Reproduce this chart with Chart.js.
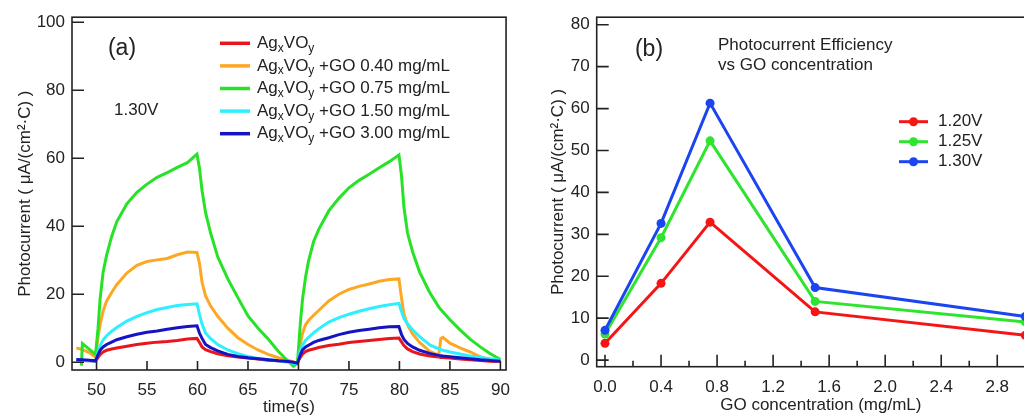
<!DOCTYPE html>
<html>
<head>
<meta charset="utf-8">
<script src="https://cdn.jsdelivr.net/npm/chart.js@4.4.1/dist/chart.umd.min.js"></script>
<style>
  html, body { margin: 0; background: #fff; overflow: hidden; width: 1024px; height: 416px; }
  #a { position: absolute; left: 0; top: 0; }
  #b { position: absolute; left: 530px; top: 0; }
</style>
</head>
<body>
<canvas id="a" width="520" height="416"></canvas>
<canvas id="b" width="530" height="416"></canvas>
<script>
// (a) transient photocurrent at 1.30 V, two light on/off cycles
const time = [48, 48.5, 48.6, 49.3, 49.9, 50.15, 50.35, 50.65, 51, 51.5, 52, 53, 54, 55, 56, 57, 58, 59, 59.95,
  60.2, 60.45, 60.8, 61.3, 62, 63, 64, 65, 66, 67, 68, 69, 69.5, 69.9, 70.2, 70.4, 70.7, 71, 71.5, 72,
  73, 74, 75, 76, 77, 78, 79, 79.95, 80.2, 80.45, 80.8, 81.3, 82, 83, 83.9, 84.1, 84.3, 85, 86, 87, 88, 89, 90];
const iBare = [0.6, 0.6, 0.5, 0.4, 0.3, 1.4, 2.2, 3, 3.5, 3.9, 4.2, 4.7, 5.2, 5.6, 5.9, 6.1, 6.4, 6.8, 7,
  5.8, 4.5, 3.7, 3.1, 2.5, 1.9, 1.5, 1.2, 0.9, 0.6, 0.4, 0.2, 0, -0.1, 1.5, 2.4, 3.1, 3.5, 3.9, 4.3,
  4.9, 5.3, 5.8, 6.1, 6.4, 6.7, 7, 7.1, 6, 4.9, 3.9, 3.1, 2.4, 1.8, 1.5, 1.4, 1.4, 1.2, 0.9, 0.7, 0.5, 0.3, 0.2];
const iGO040 = [4.2, 3.8, 3.7, 2.8, 1.5, 7.5, 11, 15, 18, 20.5, 22.8, 26.2, 28.5, 29.6, 30.1, 30.5, 31.6, 32.4, 32.3,
  29, 23.5, 19.5, 16.5, 13.5, 10, 7.2, 5.2, 3.6, 2.3, 1.3, 0.5, 0.1, -0.3, 5.5, 8.5, 11, 12.3, 13.8, 15.2,
  18, 20, 21.4, 22.3, 23, 23.8, 24.3, 24.5, 19, 14, 11, 8.3, 5.8, 3.2, 2, 7, 7.3, 5.6, 4.2, 3, 1.6, 0.6, 0.3];
const iGO075 = [null, -1, 5.5, 3.8, 2.2, 10, 18.5, 26.5, 31.5, 37, 41.3, 46.6, 50, 52.4, 54.4, 55.8, 57.3, 58.7, 61.2,
  57, 50.5, 44, 38, 31, 24.5, 19, 13.6, 10, 6.8, 3.2, 0.2, -1.2, -0.3, 12, 18.5, 25, 29.8, 35.5, 39,
  44.5, 48.2, 51.3, 53.5, 55.3, 57.2, 59, 61, 55, 45.5, 38, 32.5, 26.5, 20.5, 16.2, 15.5, 14.8, 12.5, 9.5, 6.8, 4.5, 2.5, 0.8];
const iGO150 = [0.6, 0.5, 0.5, 0.4, 0.3, 3, 4.9, 6.5, 7.8, 9.1, 10.2, 12.1, 13.5, 14.6, 15.5, 16.1, 16.7, 17, 17.2,
  14, 11.2, 8.6, 6.9, 5.2, 3.6, 2.5, 1.7, 1.1, 0.8, 0.4, 0, -0.3, -0.5, 3.7, 5, 6.4, 7.3, 8.6, 9.8,
  11.8, 13.1, 14.1, 15, 15.7, 16.4, 16.9, 17.3, 15, 12.8, 11.3, 9.5, 7.5, 5.1, 3.9, 3.7, 3.5, 3, 2.4, 1.8, 1.4, 1, 0.6];
const iGO300 = [0.8, 0.7, 0.7, 0.6, 0.4, 2.2, 3.5, 4.5, 5.2, 5.9, 6.6, 7.5, 8.2, 8.8, 9.2, 9.7, 10.1, 10.5, 10.7,
  8.5, 7, 5.2, 4.3, 3.3, 2.3, 1.7, 1.3, 1, 0.7, 0.4, 0.2, 0, -0.3, 2.3, 3.6, 4.5, 5, 5.8, 6.4,
  7.2, 8.1, 8.8, 9.3, 9.7, 10.1, 10.4, 10.5, 8.2, 6.7, 5.5, 4.5, 3.5, 2.6, 2, 1.9, 1.8, 1.6, 1.3, 1, 0.7, 0.5, 0.3];
const timeTicks = [50, 55, 60, 65, 70, 75, 80, 85, 90];
const currTicks = [0, 20, 40, 60, 80, 100];

// (b) peak photocurrent vs GO loading at three bias potentials
const goConc = [0, 0.4, 0.75, 1.5, 3.0];
const eff120 = [4, 18.3, 32.9, 11.5, 5.9];
const eff125 = [6.2, 29.2, 52.3, 14, 9.1];
const eff130 = [7.1, 32.6, 61.3, 17.3, 10.4];
const concTicks = [0, 0.4, 0.8, 1.2, 1.6, 2.0, 2.4, 2.8];
const concMinor = [0.2, 0.6, 1.0, 1.4, 1.8, 2.2, 2.6, 3.0];
const effTicks = [0, 10, 20, 30, 40, 50, 60, 70, 80];

const FONT = '"Liberation Sans", Arial, Helvetica, sans-serif';
const INK = '#222';
Chart.defaults.font.family = FONT;
Chart.defaults.font.size = 17;
Chart.defaults.color = INK;

// "_x" in a label means a one-letter subscript
function richText(ctx, str, x, y, size) {
  let cx = x;
  str.split(/(_\w)/).filter(Boolean).forEach((p) => {
    const sub = p[0] === '_';
    const s = sub ? p.slice(1) : p;
    ctx.font = `${sub ? Math.round(size * 0.7) : size}px ${FONT}`;
    ctx.fillText(s, cx, sub ? y + size * 0.3 : y);
    cx += ctx.measureText(s).width;
  });
}

// boxed plot with ticks pointing inward
const frame = {
  id: 'frame',
  afterDraw(chart, args, o) {
    const { ctx, chartArea: a, scales: { x, y } } = chart;
    ctx.save();
    ctx.strokeStyle = INK;
    ctx.lineWidth = 1.6;
    ctx.strokeRect(a.left, a.top, a.right - a.left, a.bottom - a.top);
    ctx.beginPath();
    x.ticks.forEach((t) => { const p = x.getPixelForValue(t.value); ctx.moveTo(p, a.bottom); ctx.lineTo(p, a.bottom - o.xLen); });
    (o.xMinor || []).forEach((v) => { const p = x.getPixelForValue(v); ctx.moveTo(p, a.bottom); ctx.lineTo(p, a.bottom - o.xLen / 2); });
    y.ticks.forEach((t) => { const p = y.getPixelForValue(t.value); ctx.moveTo(a.left, p); ctx.lineTo(a.left + o.yLen, p); });
    ctx.stroke();
    ctx.restore();
  }
};

// panel labels, free text and the hand-placed legend
const notes = {
  id: 'notes',
  afterDraw(chart, args, o) {
    const ctx = chart.ctx;
    ctx.save();
    ctx.fillStyle = INK;
    ctx.textBaseline = 'middle';
    o.items.forEach((it) => {
      ctx.textAlign = it.align || 'left';
      ctx.font = `${it.size}px ${FONT}`;
      ctx.fillText(it.text, it.x, it.y);
    });
    ctx.textAlign = 'left';
    const L = o.legend;
    chart.data.datasets.forEach((ds, i) => {
      const y = L.y + i * L.dy;
      ctx.strokeStyle = ds.borderColor;
      ctx.lineWidth = L.width;
      ctx.beginPath();
      ctx.moveTo(L.x, y);
      ctx.lineTo(L.x + L.len, y);
      ctx.stroke();
      if (L.marker) {
        ctx.fillStyle = ds.borderColor;
        ctx.beginPath();
        ctx.arc(L.x + L.len / 2, y, L.marker, 0, Math.PI * 2);
        ctx.fill();
      }
      ctx.fillStyle = INK;
      richText(ctx, ds.label, L.x + L.len + L.gap, y, 17);
    });
    ctx.restore();
  }
};

// no outside tick marks: the frame plugin draws them inward
const noGrid = { display: false, drawTicks: false, tickLength: 0 };

const seriesA = [
  { label: 'Ag_xVO_y', data: iBare, color: '#e8161c', order: 5 },
  { label: 'Ag_xVO_y +GO 0.40 mg/mL', data: iGO040, color: '#fca823', order: 4 },
  { label: 'Ag_xVO_y +GO 0.75 mg/mL', data: iGO075, color: '#27e227', order: 3 },
  { label: 'Ag_xVO_y +GO 1.50 mg/mL', data: iGO150, color: '#2cefff', order: 2 },
  { label: 'Ag_xVO_y +GO 3.00 mg/mL', data: iGO300, color: '#1414c4', order: 1 }
];

new Chart(document.getElementById('a'), {
  type: 'line',
  data: {
    datasets: seriesA.map((s) => ({
      label: s.label,
      data: time.map((t, i) => ({ x: t, y: s.data[i] })),
      borderColor: s.color, borderWidth: 3, pointRadius: 0, order: s.order
    }))
  },
  options: {
    responsive: false, animation: false,
    layout: { padding: { top: 15, right: 11, left: 0, bottom: 0 } },
    plugins: {
      legend: { display: false }, tooltip: { enabled: false },
      frame: { xLen: 9, yLen: 12 },
      notes: {
        items: [
          { text: '(a)', x: 122, y: 49, size: 23, align: 'center' },
          { text: '1.30V', x: 114, y: 110, size: 17 }
        ],
        legend: { x: 220, y: 43.3, dy: 22.6, len: 30, gap: 7, width: 3.5 }
      }
    },
    scales: {
      x: {
        type: 'linear', min: 47.57, max: 90.56,
        grid: noGrid, border: { display: false },
        afterBuildTicks: (s) => { s.ticks = timeTicks.map((v) => ({ value: v })); },
        afterFit: (s) => { s.height = 46; },
        ticks: { padding: 10 },
        title: { display: true, text: 'time(s)', font: { size: 17, lineHeight: 1 }, padding: 0 }
      },
      y: {
        type: 'linear', min: -2.3, max: 101.5,
        grid: noGrid, border: { display: false },
        afterBuildTicks: (s) => { s.ticks = currTicks.map((v) => ({ value: v })); },
        afterFit: (s) => { s.width = 72; },
        ticks: { padding: 7 },
        title: { display: true, text: 'Photocurrent ( μA/(cm²·C) )', font: { size: 17, lineHeight: 1 }, padding: { top: 16.5, bottom: 0 } }
      }
    }
  },
  plugins: [frame, notes]
});

const seriesB = [
  { label: '1.20V', data: eff120, color: '#f41616', order: 3 },
  { label: '1.25V', data: eff125, color: '#2ee42e', order: 2 },
  { label: '1.30V', data: eff130, color: '#1a45f0', order: 1 }
];

new Chart(document.getElementById('b'), {
  type: 'line',
  data: {
    datasets: seriesB.map((s) => ({
      label: s.label,
      data: goConc.map((c, i) => ({ x: c, y: s.data[i] })),
      borderColor: s.color, backgroundColor: s.color, borderWidth: 3,
      pointRadius: 4.5, pointBackgroundColor: s.color, pointBorderWidth: 0, order: s.order
    }))
  },
  options: {
    responsive: false, animation: false,
    layout: { padding: { top: 14, right: 15, left: 0, bottom: 0 } },
    plugins: {
      legend: { display: false }, tooltip: { enabled: false },
      frame: { xLen: 12, yLen: 12, xMinor: concMinor },
      notes: {
        items: [
          { text: '(b)', x: 119, y: 50, size: 23, align: 'center' },
          { text: 'Photocurrent Efficiency', x: 188, y: 45, size: 17 },
          { text: 'vs GO concentration', x: 188, y: 65, size: 17 }
        ],
        legend: { x: 369, y: 121.7, dy: 20, len: 29, gap: 10, width: 3, marker: 4.5 }
      }
    },
    scales: {
      x: {
        type: 'linear', min: -0.0592, max: 3.1408,
        grid: noGrid, border: { display: false },
        afterBuildTicks: (s) => { s.ticks = concTicks.map((v) => ({ value: v })); },
        afterFit: (s) => { s.height = 49.3; },
        ticks: { padding: 10, callback: (v) => v.toFixed(1) },
        title: { display: true, text: 'GO concentration (mg/mL)', font: { size: 17, lineHeight: 1 }, padding: { top: 0, bottom: 2.5 } }
      },
      y: {
        type: 'linear', min: -1.58, max: 81.8,
        grid: noGrid, border: { display: false },
        afterBuildTicks: (s) => { s.ticks = effTicks.map((v) => ({ value: v })); },
        afterFit: (s) => { s.width = 66.7; },
        ticks: { padding: 7 },
        title: { display: true, text: 'Photocurrent ( μA/(cm²·C) )', font: { size: 17, lineHeight: 1 }, padding: { top: 19.5, bottom: 0 } }
      }
    }
  },
  plugins: [frame, notes]
});
</script>
</body>
</html>
